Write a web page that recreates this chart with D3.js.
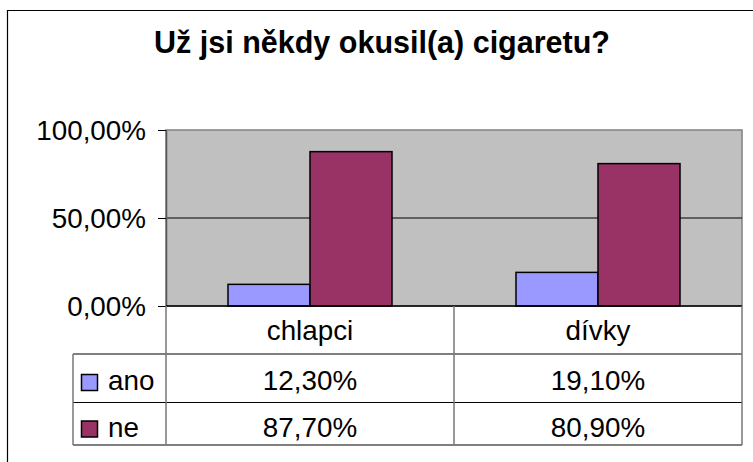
<!DOCTYPE html>
<html>
<head>
<meta charset="utf-8">
<script src="https://cdn.jsdelivr.net/npm/d3@7"></script>
<style>
  body { margin: 0; background: #fff; }
  svg { display: block; font-family: "Liberation Sans", Arial, sans-serif; }
</style>
</head>
<body>
<div id="chart"></div>
<script>
// categories and series
var categories = ["chlapci", "dívky"];
var series = ["ano", "ne"];
var ano = [0.123, 0.191];
var ne = [0.877, 0.809];
var yTicks = [0, 0.5, 1];
var seriesColors = ["#9999FF", "#993366"];

var width = 753, height = 462;

// plot box
var plot = {left: 166, right: 742, top: 130, bottom: 306};
// table rows under the plot
var rowLines = [306, 354, 402.5, 445];
var tableLeft = 73;
var textSize = 27.8;

var cz = d3.formatLocale({decimal: ",", thousands: " ", grouping: [3], currency: ["", " Kč"]});
var pct = cz.format(".2%");

var values = series.map((s, i) => ({key: s, vals: i == 0 ? ano : ne}));
var rows = categories.map((c, ci) => ({cat: c, bars: values.map(v => ({key: v.key, value: v.vals[ci]}))}));

var svg = d3.select("#chart").append("svg")
  .attr("width", width)
  .attr("height", height);

// outer chart frame
svg.append("path")
  .attr("d", "M7.5," + height + "V10.5H" + width)
  .attr("fill", "none")
  .attr("stroke", "#000")
  .attr("stroke-width", 1.2);

// title
svg.append("text")
  .attr("x", 382)
  .attr("y", 53)
  .attr("text-anchor", "middle")
  .style("font-size", "30.5px")
  .style("font-weight", "bold")
  .text("Už jsi někdy okusil(a) cigaretu?");

var x0 = d3.scaleBand()
  .domain(categories)
  .range([plot.left, plot.right]);

var x1 = d3.scaleBand()
  .domain(series)
  .range([0, x0.bandwidth()])
  .paddingInner(0)
  .paddingOuter(0.756);

var y = d3.scaleLinear()
  .domain([0, 1])
  .range([plot.bottom, plot.top]);

var colorScale = d3.scaleOrdinal().domain(series).range(seriesColors);

// plot background
svg.append("rect")
  .attr("x", plot.left)
  .attr("y", plot.top)
  .attr("width", plot.right - plot.left)
  .attr("height", plot.bottom - plot.top)
  .style("fill", "#C0C0C0")
  .style("stroke", "#808080")
  .style("stroke-width", 1.5);

// grid lines
svg.selectAll(".grid")
  .data(yTicks.filter(d => d > 0 && d < 1))
  .enter()
  .append("line")
  .attr("x1", plot.left)
  .attr("x2", plot.right)
  .attr("y1", d => y(d))
  .attr("y2", d => y(d))
  .style("stroke", "#000")
  .style("stroke-width", 1);

// bars
var groups = svg.selectAll(".grp")
  .data(rows)
  .enter()
  .append("g")
  .attr("transform", d => "translate(" + x0(d.cat) + ",0)");

groups.selectAll("rect")
  .data(d => d.bars)
  .enter()
  .append("rect")
  .attr("x", d => x1(d.key))
  .attr("y", d => y(d.value))
  .attr("width", x1.bandwidth())
  .attr("height", d => y(0) - y(d.value))
  .style("fill", d => colorScale(d.key))
  .style("stroke", "#000")
  .style("stroke-width", 1.5);

// y axis
var yAxis = d3.axisLeft(y)
  .tickValues(yTicks)
  .tickFormat(pct)
  .tickSize(8)
  .tickSizeOuter(0)
  .tickPadding(12);

var yg = svg.append("g")
  .attr("transform", "translate(" + plot.left + ",0)")
  .call(yAxis);
yg.select(".domain").attr("stroke", "#555").attr("stroke-width", 1.5);
yg.selectAll(".tick line").attr("stroke", "#000");
yg.selectAll(".tick text")
  .attr("fill", "#000")
  .style("font-family", "Liberation Sans, Arial, sans-serif")
  .style("font-size", textSize + "px")
  .attr("dy", "0.35em");

// baseline of the plot
svg.append("line")
  .attr("x1", plot.left).attr("x2", plot.right)
  .attr("y1", y(0)).attr("y2", y(0))
  .style("stroke", "#000").style("stroke-width", 1.5);

// data table
var table = svg.append("g");

// horizontal lines
table.selectAll(".hline")
  .data(rowLines.slice(1))
  .enter()
  .append("line")
  .attr("x1", tableLeft)
  .attr("x2", plot.right)
  .attr("y1", d => d)
  .attr("y2", d => d)
  .style("stroke", "#000")
  .style("stroke-width", 1.2);

// vertical lines
var vlines = [plot.left].concat(categories.map(c => x0(c) + x0.bandwidth()));
table.selectAll(".vline")
  .data(vlines)
  .enter()
  .append("line")
  .attr("x1", d => d)
  .attr("x2", d => d)
  .attr("y1", rowLines[0])
  .attr("y2", rowLines[3])
  .style("stroke", "#777")
  .style("stroke-width", 1.5);

table.append("line")
  .attr("x1", tableLeft).attr("x2", tableLeft)
  .attr("y1", rowLines[1]).attr("y2", rowLines[3])
  .style("stroke", "#777")
  .style("stroke-width", 1.5);

// category labels
table.selectAll(".cat")
  .data(categories)
  .enter()
  .append("text")
  .attr("x", d => x0(d) + x0.bandwidth() / 2)
  .attr("y", 340)
  .attr("text-anchor", "middle")
  .style("font-size", textSize + "px")
  .text(d => d);

var rowBase = [390, 436.5];

// legend keys and series names
var leg = table.selectAll(".leg")
  .data(series)
  .enter()
  .append("g");

leg.append("rect")
  .attr("x", 81.5)
  .attr("y", (d, i) => rowBase[i] - 15.5)
  .attr("width", 16)
  .attr("height", 16)
  .style("fill", d => colorScale(d))
  .style("stroke", "#000")
  .style("stroke-width", 1.5);

leg.append("text")
  .attr("x", 108)
  .attr("y", (d, i) => rowBase[i])
  .style("font-size", textSize + "px")
  .text(d => d);

// values
values.forEach(function(v, i) {
  table.selectAll(".val" + i)
    .data(v.vals)
    .enter()
    .append("text")
    .attr("x", (d, j) => x0(categories[j]) + x0.bandwidth() / 2)
    .attr("y", rowBase[i])
    .attr("text-anchor", "middle")
    .style("font-size", textSize + "px")
    .text(d => pct(d));
});
</script>
</body>
</html>
